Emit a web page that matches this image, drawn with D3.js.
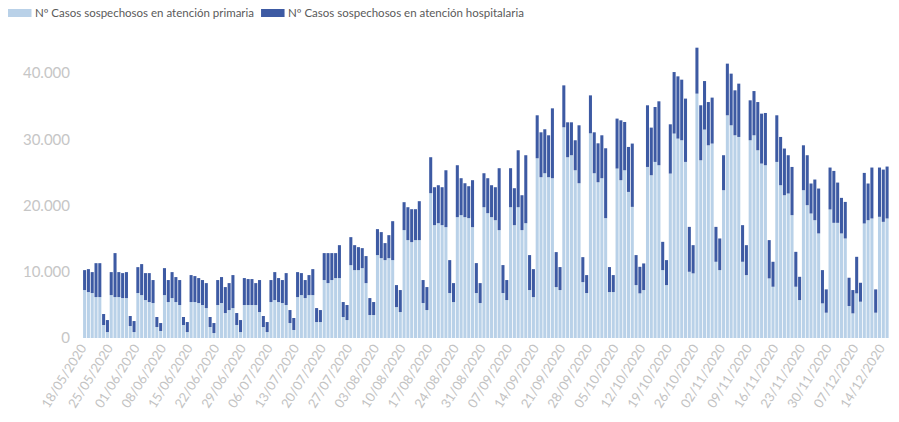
<!DOCTYPE html>
<html>
<head>
<meta charset="utf-8">
<script src="https://cdn.jsdelivr.net/npm/d3@7"></script>
<style>
  html, body { margin: 0; padding: 0; background: #ffffff; }
  svg { display: block; font-family: Lato, "Open Sans", sans-serif; }
</style>
</head>
<body>
<svg id="chart" width="899" height="422"></svg>
<script>
// ---- DATA ----
const startDate = "2020-05-18";
const seriesNames = ["Nº Casos sospechosos en atención primaria", "Nº Casos sospechosos en atención hospitalaria"];
// totals (primaria + hospitalaria), daily from 18/05/2020 to 15/12/2020
const totalCases = [
  10250,10400,9950,11300,11300,3620,2710,
  9950,12820,9950,9800,9950,3320,2560,
  10700,11160,9800,9800,8750,3170,2260,
  10550,8750,9950,9200,8750,3170,2410,
  9500,9350,9050,8750,8290,3170,2260,
  8750,9200,7690,8290,9500,3770,2710,
  9050,8900,8900,8290,8750,3320,2410,
  8750,9950,9050,8750,9800,4220,3020,
  9950,9800,8750,9500,10400,4520,4220,
  12820,12820,12820,12820,14020,5430,4980,
  15230,14020,13720,13570,12370,6030,5430,
  16440,15990,14330,15530,17640,7990,7240,
  20510,19750,19450,19450,20660,8750,7690,
  27300,22770,23070,22770,25330,11760,8290,
  26090,24130,23370,22920,23830,11310,8290,
  24880,24130,23070,22770,25640,11010,8750,
  25640,22620,28350,21560,27600,12520,10400,
  33630,31060,31520,30610,34680,12970,10710,
  38150,32570,32570,29860,32120,12210,9500,
  36640,31060,29400,30610,28650,10710,9500,
  33130,32870,32620,28850,29360,12520,10750,
  11260,35140,31770,34880,35740,14520,11760,
  32270,40160,39510,39010,36150,16780,14020,
  43840,35140,38800,35630,36300,16780,15030,
  27600,41430,39920,37400,38410,17040,14020,
  35890,37290,35630,33880,33980,14780,11510,
  33630,30360,28610,27600,25830,13010,9240,
  29100,27600,23330,23930,22570,10250,7340,
  25740,25230,23470,21160,20550,9100,7240,
  12260,8340,24930,23330,25740,7340,25740,
  25430,25890
];
const primaria = [
  7240,6940,6790,6180,6180,1960,900,
  6480,6180,6180,6030,6030,1810,900,
  6790,6480,5730,5430,5280,1660,1060,
  6480,5430,6030,5430,4980,1960,900,
  5430,5430,5280,4980,4520,1660,750,
  4980,5280,3770,4220,4520,1960,900,
  4980,4980,4980,4980,3920,1660,900,
  5430,5730,5430,5280,4980,2260,1210,
  6180,6480,6030,6480,6480,2410,2410,
  8750,8290,8750,9050,9050,3170,2710,
  11000,10250,10250,10550,8290,3470,3470,
  12520,12060,11760,12060,11760,4670,3920,
  16290,14780,14480,14780,14780,5280,4220,
  21870,17040,17340,17040,16740,6790,5430,
  18250,18550,18250,18100,16740,6790,5280,
  19750,18850,18250,17790,16290,6790,5730,
  19750,17040,19750,16290,17340,7240,6180,
  27140,24280,24880,24280,24130,7690,7240,
  31820,27300,27600,25330,23370,8440,6790,
  30910,24880,23520,24130,18100,6940,6940,
  25590,23830,25330,22060,19800,7990,6740,
  7240,25830,24580,26590,26090,10250,7990,
  24830,30870,30110,29860,26590,10000,9760,
  36900,26840,31470,29100,29360,11510,10250,
  22320,33630,32120,30610,30360,11510,9500,
  29860,30610,28350,26340,26090,9000,7740,
  26590,23070,21560,21820,18550,7740,5730,
  22320,20060,18800,17790,15790,5230,3820,
  19410,17390,17390,15790,15030,4830,3720,
  6740,5480,17290,17790,18050,3820,18300,
  17540,18050
];
const hospitalaria = totalCases.map((t, i) => t - primaria[i]);
const yTicks = [0, 10000, 20000, 30000, 40000];
const colors = ["#b9d1e8", "#3d5aa3"];

// ---- BUILD ----
const parse = d3.timeParse("%Y-%m-%d");
const fmtDate = d3.timeFormat("%d/%m/%Y");
const d0 = parse(startDate);
const dates = totalCases.map((_, i) => d3.timeDay.offset(d0, i));
const rows = dates.map((d, i) => ({ date: d, key: fmtDate(d), primaria: primaria[i], hospitalaria: hospitalaria[i] }));

const svg = d3.select("#chart");
const W = 899, H = 422;
const margin = { left: 82.7, right: 10, top: 40, bottom: 84 };

const x = d3.scaleBand().domain(rows.map(r => r.key)).range([82.7, 889]).paddingInner(0.2).paddingOuter(0.1);
const y = d3.scaleLinear().domain([0, 45000]).range([338, 40]);

const esLocale = d3.formatLocale({ decimal: ",", thousands: ".", grouping: [3], currency: ["", " €"] });
const fmtNum = esLocale.format(",.0f");

const stack = d3.stack().keys(["primaria", "hospitalaria"]);
const layers = stack(rows);

svg.append("g").selectAll("g").data(layers).join("g")
  .attr("fill", (d, i) => colors[i])
  .selectAll("rect").data(d => d).join("rect")
  .attr("x", d => x(d.data.key))
  .attr("width", x.bandwidth())
  .attr("y", d => y(d[1]))
  .attr("height", d => Math.max(0, y(d[0]) - y(d[1])));

// y axis
const yAxis = d3.axisLeft(y).tickValues(yTicks).tickFormat(fmtNum).tickSize(0).tickPadding(0);
const gy = svg.append("g").attr("transform", "translate(70,0)").call(yAxis);
gy.select(".domain").remove();
gy.selectAll("text").attr("fill", "#c6c6c6").style("font-size", "15px").style("font-family", "Lato, sans-serif");

// x axis (weekly Mondays)
const mondays = rows.filter((r, i) => i % 7 === 0).map(r => r.key);
const xAxis = d3.axisBottom(x).tickValues(mondays).tickSize(0).tickPadding(0);
const gx = svg.append("g").attr("transform", "translate(0,343)").call(xAxis);
gx.select(".domain").remove();
gx.selectAll("text")
  .attr("fill", "#c2c2c2")
  .style("font-size", "13px")
  .style("font-family", "Lato, sans-serif")
  .attr("text-anchor", "end")
  .attr("dy", "0.35em")
  .attr("y", 0)
  .attr("transform", "rotate(-58) translate(-3,0)");

// legend
const legend = svg.append("g").attr("transform", "translate(8,9)");
let lx = 0;
seriesNames.forEach((name, i) => {
  const g = legend.append("g").attr("transform", `translate(${lx},0)`);
  g.append("rect").attr("width", 23.5).attr("height", 8).attr("fill", colors[i]);
  const t = g.append("text").attr("x", 27).attr("y", 8).attr("fill", "#5a5a5a")
    .style("font-size", "11.5px").style("font-family", "Lato, sans-serif").text(name);
  lx += 27 + t.node().getComputedTextLength() + 7;
});
</script>
</body>
</html>
